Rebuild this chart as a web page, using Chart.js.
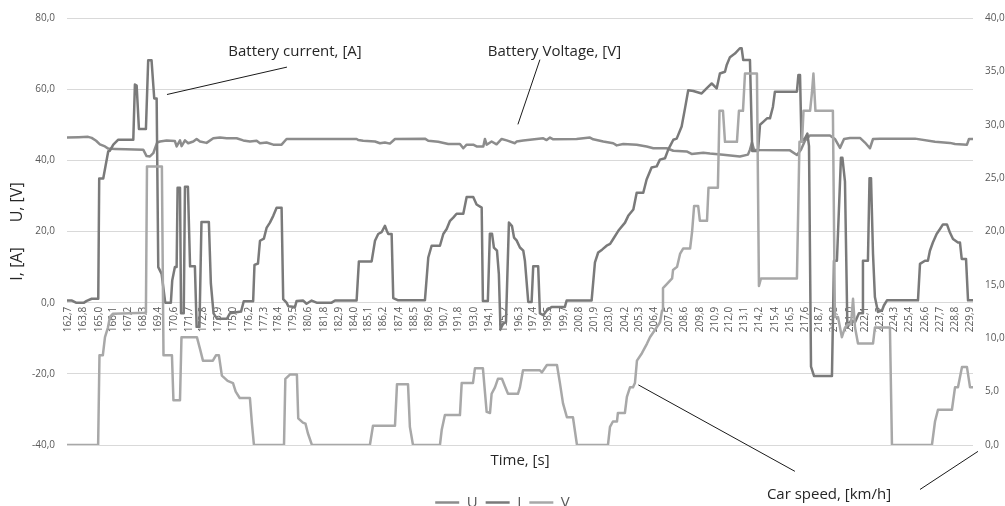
<!DOCTYPE html>
<html lang="en">
<head>
  <meta charset="UTF-8" />
  <title>Battery current, voltage and car speed</title>
  <script src="https://cdn.jsdelivr.net/npm/chart.js@4.4.1/dist/chart.umd.min.js"></script>
  <style>
    html, body { margin: 0; padding: 0; background: #fff; overflow: hidden; }
    #wrap { width: 1005px; height: 520px; }
  </style>
</head>
<body>
  <div id="wrap"><canvas id="chart"></canvas></div>

  <script>
    // tick labels on the time axis, [s]
    const timeTicks = [162.7, 163.8, 165.0, 166.1, 167.2, 168.3, 169.4, 170.6, 171.7, 172.8, 173.9,
      175.0, 176.2, 177.3, 178.4, 179.5, 180.6, 181.8, 182.9, 184.0, 185.1, 186.2, 187.4, 188.5,
      189.6, 190.7, 191.8, 193.0, 194.1, 195.2, 196.3, 197.4, 198.5, 199.7, 200.8, 201.9, 203.0,
      204.2, 205.3, 206.4, 207.5, 208.6, 209.8, 210.9, 212.0, 213.1, 214.2, 215.4, 216.5, 217.6,
      218.7, 219.8, 221.0, 222.1, 223.2, 224.3, 225.4, 226.6, 227.7, 228.8, 229.9];

    // U - battery voltage [V], pairs of [time, value]
    const voltage = [[162.63,46.4],[163.5,46.5],[164.2,46.6],[164.47,46.3],[164.8,45.5],[165.08,44.5],
      [165.46,43.9],[165.7,43.3],[166.2,43.2],[167.0,43.1],[168.31,43.0],[168.56,41.2],[168.81,41.1],
      [169.06,42.0],[169.2,43.5],[169.35,45.0],[169.56,45.3],[170.05,45.6],[170.67,45.4],[170.8,43.9],
      [171.05,45.6],[171.17,44.0],[171.42,45.6],[171.66,44.8],[172.04,45.3],[172.29,46.0],[172.54,45.3],
      [173.03,44.9],[173.53,46.2],[174.03,46.4],[174.53,46.2],[175.27,46.2],[175.76,45.6],[176.26,45.3],
      [176.76,45.5],[177.01,44.8],[177.5,45.0],[178.0,44.4],[178.62,44.4],[178.99,46.0],[184.21,46.0],
      [184.33,45.7],[184.7,45.5],[185.58,45.3],[185.95,44.8],[186.32,45.0],[186.69,44.7],[187.07,46.0],
      [189.3,46.1],[189.55,45.5],[190.29,45.2],[191.04,44.6],[191.91,44.6],[192.16,43.4],[192.41,44.4],
      [192.9,44.4],[193.15,43.9],[193.65,43.9],[193.77,46.0],[193.9,44.4],[194.27,45.3],[194.64,44.5],
      [195.02,46.0],[195.39,45.6],[196.01,44.8],[196.13,45.3],[196.63,45.6],[197.62,46.0],[198.12,46.2],
      [198.37,45.7],[198.62,46.4],[198.86,45.9],[200.6,46.0],[201.6,46.4],[201.84,45.9],[202.59,45.3],
      [203.33,44.8],[203.59,44.2],[204.08,44.6],[205.08,44.4],[205.82,43.9],[206.32,43.4],[207.31,43.4],
      [207.81,42.7],[208.8,42.5],[209.17,41.8],[210.04,42.1],[210.54,41.9],[211.53,41.6],[212.77,41.1],
      [213.37,41.6],[213.52,43.0],[213.67,45.0],[213.82,43.0],[214.11,42.9],[216.5,42.8],[217.02,41.5],
      [217.32,43.0],[217.62,45.5],[217.99,47.0],[219.48,47.0],[219.85,46.0],[220.23,43.5],[220.53,46.0],
      [220.97,46.3],[221.72,46.3],[222.09,45.0],[222.46,43.4],[222.69,46.0],[223.21,46.1],[225.82,46.1],
      [227.31,45.2],[228.42,44.9],[228.8,44.6],[229.69,44.4],[229.84,46.0],[230.14,46.0]];

    // I - battery current [A]
    const current = [[162.63,0.6],[163.0,0.6],[163.3,0],[163.9,0],[164.1,0.5],[164.47,1.1],[164.96,1.1],
      [165.03,34.9],[165.33,34.9],[165.7,42.5],[165.83,42.7],[166.08,44.4],[166.45,45.8],[167.57,45.8],
      [167.69,61.3],[167.82,61.0],[167.99,48.8],[168.51,48.8],[168.68,68.1],[168.93,68.1],[169.13,57.4],
      [169.31,57.4],[169.43,10.0],[169.68,8.1],[169.95,0],[170.37,0],[170.47,6.2],[170.67,10.0],
      [170.8,10.0],[170.87,32.3],[171.05,32.3],[171.13,-3.0],[171.33,-3.0],[171.42,32.6],[171.64,32.6],
      [171.8,10.2],[172.16,10.2],[172.29,-6.8],[172.5,-6.8],[172.65,22.7],[173.2,22.7],[173.35,5.4],
      [173.55,-3.0],[173.8,-4.5],[174.55,-4.5],[174.77,-3.0],[175.6,-2.5],[175.8,0.4],[176.5,0.4],
      [176.6,10.6],[176.86,11.0],[177.01,17.4],[177.3,18.0],[177.5,21.0],[177.75,22.5],[178.0,24.4],
      [178.25,26.7],[178.62,26.7],[178.74,1.0],[178.99,0],[179.12,-1.0],[179.62,-1.2],[179.74,0.5],
      [180.23,0.6],[180.48,-0.3],[180.86,0.6],[181.23,0],[182.35,0],[182.6,0.6],[184.21,0.6],[184.38,11.6],
      [185.33,11.6],[185.58,17.4],[185.82,19.3],[186.07,19.8],[186.32,21.6],[186.45,20.3],[186.57,19.3],
      [186.82,19.3],[186.94,1.3],[187.31,0.65],[189.3,0.65],[189.55,12.7],[189.8,16.0],[190.42,16.0],
      [190.67,19.3],[190.92,20.7],[191.17,23.0],[191.41,23.9],[191.66,25.0],[192.16,25.0],[192.41,29.7],
      [192.9,29.7],[193.15,27.6],[193.53,26.7],[193.62,0.5],[193.99,0.5],[194.14,19.4],[194.3,19.4],
      [194.44,15.5],[194.67,14.6],[194.81,8.0],[194.93,-7.5],[195.11,-6.0],[195.34,-5.5],[195.56,22.5],
      [195.79,21.5],[195.94,18.3],[196.13,17.5],[196.38,15.5],[196.63,14.6],[196.75,11.8],[197.0,0.2],
      [197.25,0.2],[197.37,10.2],[197.74,10.2],[197.87,-3.0],[198.12,-3.5],[198.37,-2.3],[198.74,-1.2],
      [199.73,-1.2],[199.86,0.6],[201.72,0.6],[201.97,11.3],[202.21,14.1],[202.5,14.9],[202.84,16.0],
      [203.1,16.5],[203.33,17.9],[203.71,20.2],[204.21,22.5],[204.45,24.4],[204.83,26.2],[205.08,30.9],
      [205.57,30.9],[205.82,34.6],[206.19,38.0],[206.57,38.3],[206.81,40.2],[207.19,40.6],[207.43,43.0],
      [207.81,45.8],[208.06,46.1],[208.43,49.5],[208.68,54.6],[208.92,59.7],[209.3,59.5],[209.92,58.8],
      [210.29,60.2],[210.67,61.6],[211.04,60.2],[211.28,64.4],[211.66,64.9],[211.78,66.7],[212.03,69.0],
      [212.4,70.0],[212.77,71.5],[212.9,71.5],[213.02,68.2],[213.52,68.2],[213.69,42.6],[214.12,42.6],
      [214.27,50.0],[214.53,50.9],[214.79,51.8],[215.01,51.8],[215.23,55.0],[215.38,59.3],[217.02,59.3],
      [217.13,64.0],[217.25,64.0],[217.36,45.3],[217.62,46.2],[217.8,47.5],[217.92,44.0],[218.07,-18.0],
      [218.29,-20.6],[219.63,-20.6],[219.78,11.8],[220.0,11.8],[220.3,40.7],[220.41,40.7],[220.6,34.0],
      [220.78,-7.0],[221.05,-5.0],[221.35,-5.5],[221.64,-3.0],[221.87,-3.0],[221.94,11.8],[222.31,11.8],
      [222.43,35.0],[222.54,35.0],[222.69,13.7],[222.83,1.6],[223.06,-2.6],[223.36,-2.2],[223.5,-0.8],
      [223.73,0.65],[226.04,0.65],[226.19,10.9],[226.56,11.8],[226.78,11.8],[226.93,14.6],[227.15,16.9],
      [227.43,19.3],[227.68,20.7],[227.9,22.0],[228.2,22.0],[228.42,19.7],[228.65,17.9],[229.02,16.9],
      [229.17,16.9],[229.3,12.3],[229.62,12.3],[229.77,0.65],[230.14,0.65]];

    // V - car speed [km/h], right axis
    const speed = [[162.63,0],[164.95,0],[165.05,8.4],[165.3,8.4],[165.46,10.1],[165.68,11.0],[165.83,12.0],
      [166.06,12.3],[168.51,12.4],[168.59,26.1],[169.7,26.1],[169.82,8.4],[170.45,8.4],[170.56,4.2],
      [171.05,4.2],[171.16,10.1],[172.31,10.1],[172.54,9.0],[172.76,7.9],[173.5,7.9],[173.73,8.4],
      [173.95,8.4],[174.17,6.5],[174.6,6.0],[175.0,5.8],[175.2,5.0],[175.5,4.4],[176.26,4.4],[176.41,2.0],
      [176.56,0],[178.8,0],[178.9,6.2],[179.24,6.6],[179.76,6.6],[179.86,2.5],[180.21,2.1],[180.4,2.0],
      [180.58,1.1],[180.88,0],[185.2,0],[185.43,1.8],[187.07,1.8],[187.22,5.7],[188.04,5.7],[188.18,1.7],
      [188.41,0],[190.42,0],[190.55,1.4],[190.79,2.8],[191.91,2.8],[192.04,5.8],[192.88,5.8],[193.03,7.2],
      [193.62,7.2],[193.9,3.1],[194.15,3.0],[194.27,4.8],[194.52,5.4],[194.74,6.2],[195.04,6.2],
      [195.26,5.5],[195.49,4.8],[196.23,4.8],[196.38,5.4],[196.61,7.0],[197.87,7.0],[198.02,6.8],
      [198.39,7.5],[199.14,7.5],[199.36,5.8],[199.59,3.9],[199.88,2.6],[200.33,2.6],[200.63,0],[202.94,0],
      [203.09,1.7],[203.31,2.2],[203.61,2.2],[203.68,3.0],[204.2,3.0],[204.35,4.5],[204.58,5.4],
      [204.8,5.4],[204.95,5.8],[205.1,7.9],[205.47,8.6],[205.85,9.5],[206.07,10.1],[206.45,10.8],
      [206.82,11.5],[206.97,12.6],[207.04,14.7],[207.34,15.1],[207.72,15.6],[207.79,16.4],[208.09,16.7],
      [208.31,17.9],[208.54,18.4],[209.06,18.4],[209.21,20.0],[209.36,22.4],[209.66,22.4],[209.79,21.0],
      [210.32,21.0],[210.43,24.1],[211.13,24.1],[211.25,31.3],[211.51,31.3],[211.66,28.4],[212.55,28.4],
      [212.7,31.3],[213.0,31.3],[213.15,34.8],[214.04,34.8],[214.19,14.9],[214.34,15.6],[217.02,15.6],
      [217.21,28.4],[217.4,28.4],[217.51,31.3],[218.0,31.3],[218.14,33.0],[218.25,34.8],[218.4,31.3],
      [219.7,31.3],[219.85,12.0],[220.08,12.0],[220.37,10.1],[220.6,11.0],[220.82,11.3],[221.05,11.3],
      [221.2,13.7],[221.35,11.0],[221.57,9.5],[222.69,9.5],[222.83,11.0],[223.95,11.0],[224.1,0],
      [227.08,0],[227.31,2.2],[227.53,3.3],[228.57,3.3],[228.8,5.4],[229.02,5.4],[229.32,7.3],
      [229.69,7.3],[229.92,5.4],[230.14,5.4]];

    // callout texts with leader lines, anchored in (time, left axis) units
    const callouts = [
      { text: 'Battery current, [A]', at: [179.62, 70.6], lines: [[[179.02, 66.2], [170.08, 58.5]]] },
      { text: 'Battery Voltage, [V]', at: [198.95, 70.6], lines: [[[197.87, 68.3], [196.23, 50.1]]] },
      { text: 'Car speed, [km/h]', at: [219.41, -53.9],
        lines: [[[205.2, -23.1], [216.87, -47.4]], [[226.19, -52.5], [230.51, -41.8]]] }
    ];

    const fmt = v => Number(v).toFixed(1).replace('.', ',');
    const toPoints = pairs => pairs.map(([t, v]) => ({ x: t, y: v }));

    Chart.defaults.font.family = "'Open Sans', sans-serif";

    const calloutPlugin = {
      id: 'callouts',
      afterDraw(chart) {
        const { ctx } = chart;
        const x = chart.scales.x, y = chart.scales.y;
        ctx.save();
        ctx.font = "15px 'Open Sans', sans-serif";
        ctx.fillStyle = '#262626';
        ctx.textAlign = 'center';
        ctx.textBaseline = 'middle';
        ctx.strokeStyle = '#1a1a1a';
        ctx.lineWidth = 1;
        callouts.forEach(c => {
          ctx.fillText(c.text, x.getPixelForValue(c.at[0]), y.getPixelForValue(c.at[1]));
          c.lines.forEach(([a, b]) => {
            ctx.beginPath();
            ctx.moveTo(x.getPixelForValue(a[0]), y.getPixelForValue(a[1]));
            ctx.lineTo(x.getPixelForValue(b[0]), y.getPixelForValue(b[1]));
            ctx.stroke();
          });
        });
        ctx.restore();
      }
    };

    const tickStyle = { color: '#595959', font: { size: 10 } };

    new Chart(document.getElementById('chart'), {
      type: 'line',
      data: {
        datasets: [
          { label: 'U', data: toPoints(voltage), borderColor: '#8c8c8c', borderWidth: 2.5, yAxisID: 'y', order: 2 },
          { label: 'I', data: toPoints(current), borderColor: '#7a7a7a', borderWidth: 2.5, yAxisID: 'y', order: 1 },
          { label: 'V', data: toPoints(speed), borderColor: '#a8a8a8', borderWidth: 2.5, yAxisID: 'y1', order: 0 }
        ]
      },
      options: {
        responsive: true,
        maintainAspectRatio: false,
        animation: false,
        events: [],
        layout: { padding: { top: 16 } },
        elements: {
          line: { tension: 0, borderJoinStyle: 'round', borderCapStyle: 'round' },
          point: { radius: 0, hoverRadius: 0 }
        },
        scales: {
          x: {
            type: 'linear',
            position: { y: 0 },
            min: 162.63,
            max: 230.14,
            afterBuildTicks: s => { s.ticks = timeTicks.map(v => ({ value: v })); },
            ticks: { ...tickStyle, autoSkip: false, minRotation: 90, maxRotation: 90, padding: 4, callback: fmt },
            grid: { display: false, drawTicks: false },
            border: { display: false }
          },
          y: {
            position: 'left',
            min: -40,
            max: 80,
            ticks: { ...tickStyle, stepSize: 20, padding: 12, callback: fmt },
            grid: { color: '#d9d9d9', drawTicks: false },
            border: { display: false },
            title: {
              display: true,
              text: 'I, [A]      U, [V]',
              color: '#262626',
              font: { size: 16 },
              padding: { top: 8, bottom: 0 }
            },
            afterFit: s => { s.width = 67; }
          },
          y1: {
            position: 'right',
            min: 0,
            max: 40,
            ticks: { ...tickStyle, stepSize: 5, padding: 12, callback: fmt },
            grid: { display: false, drawTicks: false },
            border: { display: false },
            afterFit: s => { s.width = 32; }
          }
        },
        plugins: {
          legend: {
            position: 'bottom',
            labels: {
              usePointStyle: true,
              pointStyle: 'line',
              pointStyleWidth: 24,
              color: '#595959',
              font: { size: 15 },
              padding: 8,
              sort: (a, b) => a.datasetIndex - b.datasetIndex
            }
          },
          title: {
            display: true,
            position: 'bottom',
            text: 'Time, [s]',
            fullSize: false,
            weight: 500,
            color: '#262626',
            font: { size: 15, weight: 'normal' },
            padding: { top: 7, bottom: 17 }
          },
          tooltip: { enabled: false }
        }
      },
      plugins: [calloutPlugin]
    });
  </script>
</body>
</html>
